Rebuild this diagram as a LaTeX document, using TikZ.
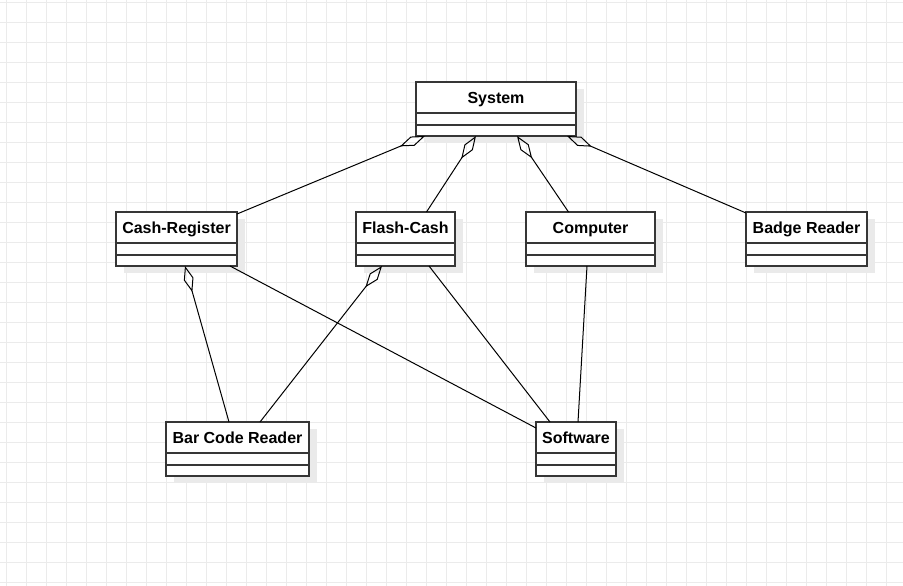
\documentclass[tikz,border=0pt]{standalone}
\usepackage{fontspec}
\setmainfont{Liberation Sans}
\usetikzlibrary{positioning,arrows.meta,backgrounds}
\definecolor{gridgray}{HTML}{EBEBEB}
\definecolor{boxgray}{HTML}{363636}
\definecolor{shadowgray}{HTML}{EAEAEA}
\begin{document}
\begin{tikzpicture}[x=1pt,y=-1pt,
head/.style={
% class name part:
rectangle,
draw=boxgray,
line width=1.5pt,
fill=white,
inner sep=0pt,
outer sep=0pt,
minimum height=31pt,
text height=11.5pt,
text depth=0.5pt,
anchor=north,
font=\fontsize{16}{19}\selectfont\bfseries
},
attr/.style={
rectangle,draw=boxgray,line width=1.5pt,fill=white,inner sep=0pt,outer sep=0pt,minimum height=12pt
},
oper/.style={
rectangle,draw=boxgray,line width=1.5pt,fill=white,inner sep=0pt,outer sep=0pt,minimum height=11pt
},
gridline/.style={draw=gridgray,line width=0.7pt},
link/.style={draw=black,line width=1pt},
agg/.style={link,{Diamond[open,length=27pt,width=10pt]}-}
]
\useasboundingbox (0,0) rectangle (903,586);
% Classes:
\node[head,minimum width=160] (sys) at (496,82) {System};
\node[attr,minimum width=160,below=0pt of sys] (sys-att) {};
\node[oper,minimum width=160,below=0pt of sys-att] (sys-op) {};
\node[head,minimum width=121] (cash) at (176.5,212) {Cash-Register};
\node[attr,minimum width=121,below=0pt of cash] (cash-att) {};
\node[oper,minimum width=121,below=0pt of cash-att] (cash-op) {};
\node[head,minimum width=99] (flash) at (405.5,212) {Flash-Cash};
\node[attr,minimum width=99,below=0pt of flash] (flash-att) {};
\node[oper,minimum width=99,below=0pt of flash-att] (flash-op) {};
\node[head,minimum width=129] (comp) at (590.5,212) {Computer};
\node[attr,minimum width=129,below=0pt of comp] (comp-att) {};
\node[oper,minimum width=129,below=0pt of comp-att] (comp-op) {};
\node[head,minimum width=121] (badge) at (806.5,212) {Badge Reader};
\node[attr,minimum width=121,below=0pt of badge] (badge-att) {};
\node[oper,minimum width=121,below=0pt of badge-att] (badge-op) {};
\node[head,minimum width=143] (bar) at (237.5,422) {Bar Code Reader};
\node[attr,minimum width=143,below=0pt of bar] (bar-att) {};
\node[oper,minimum width=143,below=0pt of bar-att] (bar-op) {};
\node[head,minimum width=80] (soft) at (576,422) {Software};
\node[attr,minimum width=80,below=0pt of soft] (soft-att) {};
\node[oper,minimum width=80,below=0pt of soft-att] (soft-op) {};
% Aggregations and associations:
\draw[agg] ([xshift=9]sys-op.south west) -- ([yshift=-2]cash.north east);
\draw[agg] ([xshift=60]sys-op.south west) -- ([xshift=21]flash.north);
\draw[agg] ([xshift=101]sys-op.south west) -- ([xshift=-22]comp.north);
\draw[agg] ([xshift=-9]sys-op.south east) -- ([yshift=-1]badge.north west);
\draw[agg] ([xshift=69]cash-op.south west) -- ([xshift=63]bar.north west);
\draw[agg] ([xshift=26]flash-op.south west) -- ([xshift=94]bar.north west);
\draw[link] ([xshift=114]cash-op.south west) -- ([yshift=-6]soft.north west);
\draw[link] ([xshift=73]flash-op.south west) -- ([xshift=14]soft.north west);
\draw[link] ([xshift=61]comp-op.south west) -- ([xshift=42]soft.north west);
% Paper, grid and shadows:
\begin{scope}[on background layer]
\fill[white] (0,0) rectangle (903,586);
\foreach \k in {0,...,44} \draw[gridline] (6.5+20*\k,0) -- (6.5+20*\k,586);
\foreach \k in {0,...,29} \draw[gridline] (0,2.5+20*\k) -- (903,2.5+20*\k);
\foreach \b in {sys,cash,flash,comp,badge,bar,soft}
  \fill[shadowgray] ([shift={(8,7)}]\b.north west) rectangle ([shift={(8,7)}]\b-op.south east);
\end{scope}
\end{tikzpicture}
\end{document}
